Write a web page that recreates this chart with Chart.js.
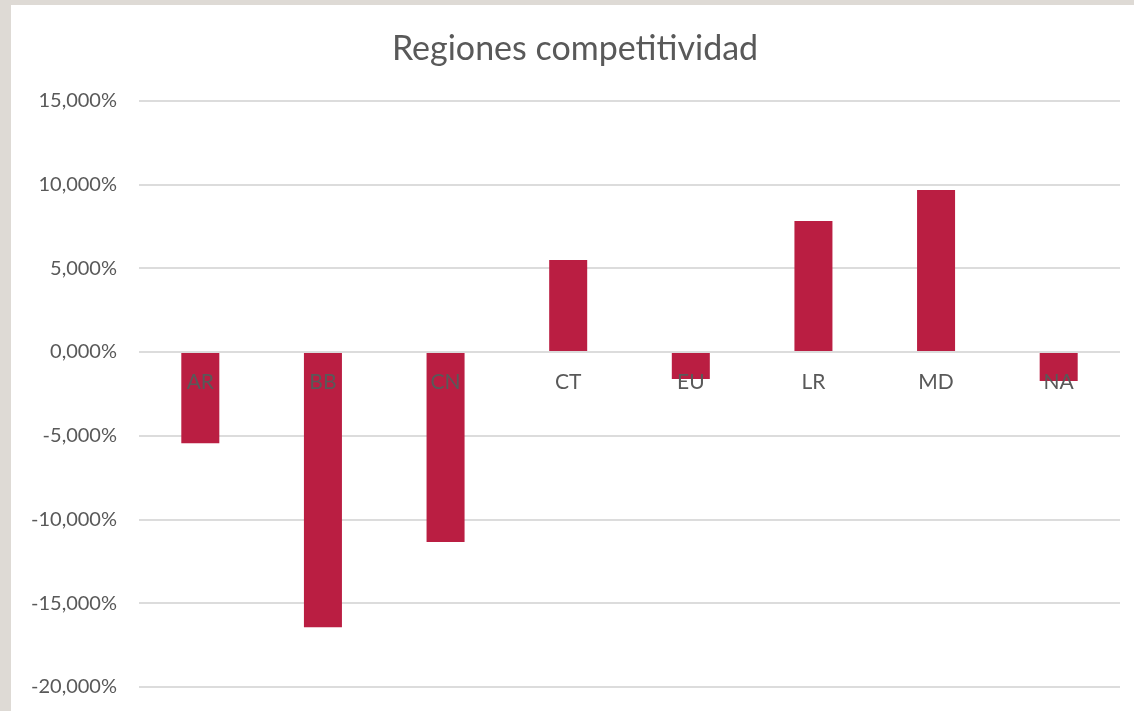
<!DOCTYPE html>
<html>
<head>
<meta charset="utf-8">
<script src="https://cdn.jsdelivr.net/npm/chart.js@4"></script>
<style>
  html, body { margin: 0; padding: 0; }
  body { width: 1134px; height: 711px; background: #dedad5; position: relative; overflow: hidden; }
  #paper { position: absolute; left: 11px; top: 5px; width: 1123px; height: 706px; background: #ffffff; }
  #wrap { position: absolute; left: 30px; top: 5px; width: 1104px; height: 706px; }
</style>
</head>
<body>
<div id="paper"></div>
<div id="wrap"><canvas id="myChart"></canvas></div>
<script>
const regions = ['AR', 'BB', 'CN', 'CT', 'EU', 'LR', 'MD', 'NA'];
const competitividad = [-5.44, -16.43, -11.35, 5.50, -1.61, 7.83, 9.68, -1.73];

const yMin = -20, yMax = 15, yStep = 5;

const textGrey = '#595959';
const barRed = '#ba1e42';
const fontName = 'Lato, "Open Sans", sans-serif';

const ctx = document.getElementById('myChart');

new Chart(ctx, {
  type: 'bar',
  data: {
    labels: regions,
    datasets: [
      {
        label: 'Regiones competitividad',
        data: competitividad,
        backgroundColor: barRed,
        borderWidth: 0,
        categoryPercentage: 1,
        barPercentage: 0.31,
      },
    ],
  },
  options: {
    responsive: true,
    maintainAspectRatio: false,
    animation: false,
    layout: {
      padding: { left: 0, right: 14, top: 0, bottom: 24 },
    },
    scales: {
      x: {
        // labels sit on the zero line, like the Excel original
        position: { y: 0 },
        afterFit: (scale) => { scale.height = 0; },
        grid: { display: false, drawTicks: false },
        border: { display: false },
        ticks: {
          z: 1,
          color: textGrey,
          font: { family: fontName, size: 21 },
          padding: 18,
          maxRotation: 0,
        },
      },
      y: {
        min: yMin,
        max: yMax,
        afterFit: (scale) => {
          scale.width = 109;
          scale.paddingBottom = 12;
        },
        grid: { color: '#dcdcdc', lineWidth: 2, drawTicks: false },
        border: { display: false },
        ticks: {
          stepSize: yStep,
          color: textGrey,
          padding: 22,
          font: { family: fontName, size: 20 },
          callback: (v) => v.toFixed(3).replace('.', ',') + '%',
        },
      },
    },
    plugins: {
      legend: { display: false },
      tooltip: { enabled: false },
      title: {
        display: true,
        text: 'Regiones competitividad',
        color: textGrey,
        font: { family: fontName, size: 34, weight: 'normal' },
        padding: { top: 24, bottom: 31 },
      },
    },
  },
});
</script>
</body>
</html>
